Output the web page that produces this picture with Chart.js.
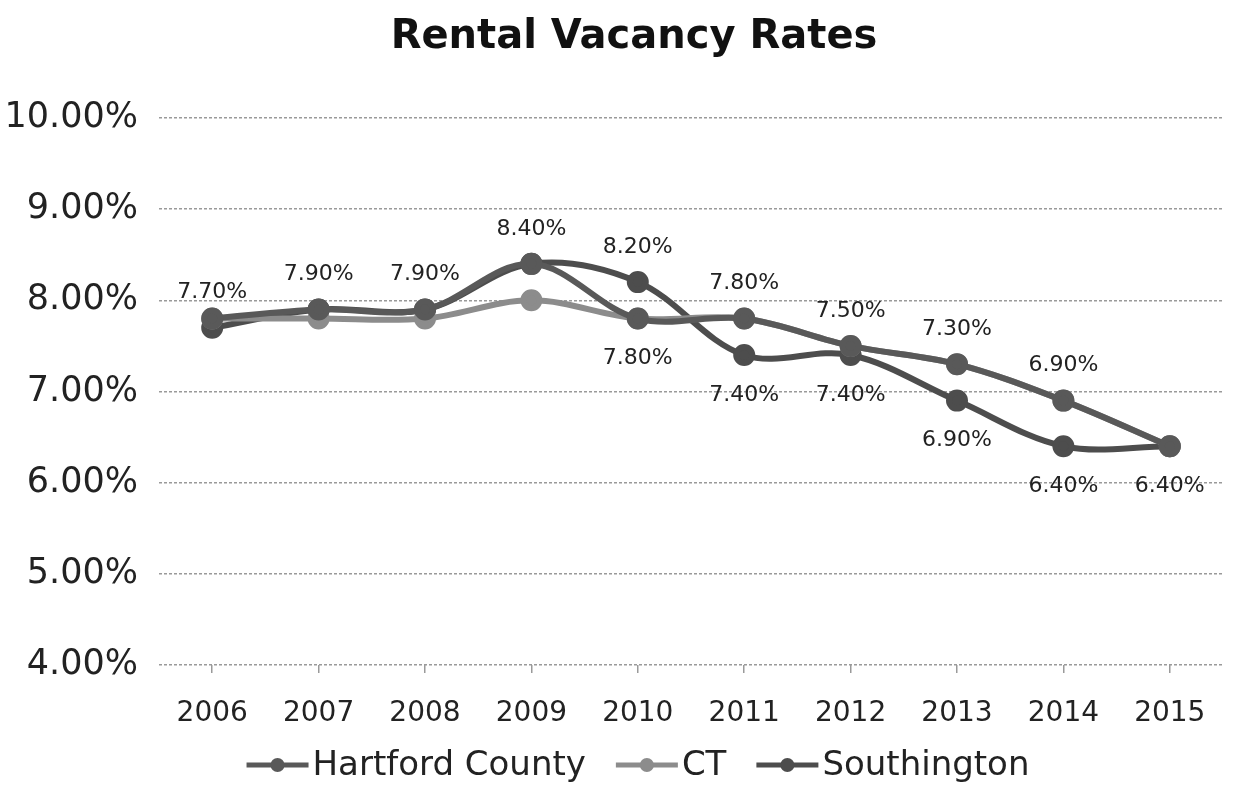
<!DOCTYPE html>
<html>
<head>
<meta charset="utf-8">
<script src="https://cdn.jsdelivr.net/npm/chart.js@4"></script>
<style>
html,body{margin:0;padding:0;background:#fff;}
#wrap{width:1258px;height:791px;}
</style>
</head>
<body>
<div id="wrap"><canvas id="c" width="1258" height="791"></canvas></div>
<script>
const years = ['2006','2007','2008','2009','2010','2011','2012','2013','2014','2015'];
const hartfordCounty = [7.8, 7.9, 7.9, 8.4, 7.8, 7.8, 7.5, 7.3, 6.9, 6.4];
const ct = [7.8, 7.8, 7.8, 8.0, 7.8, 7.8, 7.5, 7.3, 6.9, 6.4];
const southington = [7.7, 7.9, 7.9, 8.4, 8.2, 7.4, 7.4, 6.9, 6.4, 6.4];
const yTicks = [4, 5, 6, 7, 8, 9, 10];
// label placement per point: 'a' above, 'b' below, '' none
const hartfordLabels = ['', '', '', '', 'b', 'a', 'a', 'a', 'a', ''];
const ctLabels = ['', '', '', '', '', '', '', '', '', ''];
const southingtonLabels = ['a', 'a', 'a', 'a', 'a', 'b', 'b', 'b', 'b', 'b'];
const chartTitle = 'Rental Vacancy Rates';

const FONT = '"DejaVu Sans", sans-serif';

const seriesDefs = [
  {label: 'Hartford County', data: hartfordCounty, color: '#595959', labels: hartfordLabels},
  {label: 'CT', data: ct, color: '#8c8c8c', labels: ctLabels},
  {label: 'Southington', data: southington, color: '#4d4d4d', labels: southingtonLabels}
];

const valueLabels = {
  id: 'valueLabels',
  afterDatasetsDraw(chart) {
    const ctx = chart.ctx;
    ctx.save();
    ctx.font = '22px ' + FONT;
    ctx.fillStyle = '#222';
    ctx.textAlign = 'center';
    ctx.textBaseline = 'middle';
    seriesDefs.forEach((s, di) => {
      const meta = chart.getDatasetMeta(di);
      s.labels.forEach((pos, i) => {
        if (!pos) return;
        const pt = meta.data[i];
        const y = pos === 'a' ? pt.y - 35 : pt.y + 40;
        ctx.fillText(s.data[i].toFixed(2) + '%', pt.x, y);
      });
    });
    ctx.restore();
  }
};

const titleAndLegend = {
  id: 'titleAndLegend',
  afterDraw(chart) {
    const ctx = chart.ctx;
    ctx.save();
    // title
    ctx.font = 'bold 40px ' + FONT;
    ctx.fillStyle = '#111';
    ctx.textAlign = 'center';
    ctx.textBaseline = 'middle';
    ctx.fillText(chartTitle, 634, 38);
    // legend
    ctx.font = '34px ' + FONT;
    const iconW = 62, iconGap = 4, itemGap = 30;
    const widths = seriesDefs.map(s => iconW + iconGap + ctx.measureText(s.label).width);
    const total = widths.reduce((a, b) => a + b, 0) + itemGap * (seriesDefs.length - 1);
    let x = 638 - total / 2;
    const y = 765;
    seriesDefs.forEach((s, i) => {
      ctx.strokeStyle = s.color; ctx.lineWidth = 5;
      ctx.beginPath(); ctx.moveTo(x, y); ctx.lineTo(x + iconW, y); ctx.stroke();
      ctx.fillStyle = s.color;
      ctx.beginPath(); ctx.arc(x + iconW / 2, y, 7, 0, Math.PI * 2); ctx.fill();
      ctx.fillStyle = '#222';
      ctx.textAlign = 'left';
      ctx.fillText(s.label, x + iconW + iconGap, y + 1);
      x += widths[i] + itemGap;
    });
    ctx.restore();
  }
};

new Chart(document.getElementById('c'), {
  type: 'line',
  data: {
    labels: years,
    datasets: seriesDefs.map(s => ({
      label: s.label,
      data: s.data,
      borderColor: s.color,
      backgroundColor: s.color,
      borderWidth: 6,
      pointRadius: 8,
      pointHoverRadius: 8,
      pointBackgroundColor: s.color,
      pointBorderColor: s.color,
      pointStyle: 'circle',
      tension: 0.35,
      fill: false
    }))
  },
  options: {
    responsive: false,
    animation: false,
    layout: {padding: {left: 5, right: 35, top: 118, bottom: 56}},
    plugins: {
      title: {display: false},
      legend: {display: false},
      tooltip: {enabled: false}
    },
    scales: {
      x: {
        offset: true,
        grid: {display: true, drawOnChartArea: false, drawTicks: true, tickLength: 8, color: '#9a9a9a', lineWidth: 1.5},
        border: {display: false},
        ticks: {color: '#222', font: {family: FONT, size: 28}, padding: 24},
        afterFit(scale) { scale.height = 70; }
      },
      y: {
        min: 4, max: 10,
        afterBuildTicks(axis) { axis.ticks = yTicks.map(v => ({value: v})); },
        grid: {color: '#9a9a9a', lineWidth: 1.5, drawTicks: false},
        border: {display: false, dash: [3, 2]},
        ticks: {
          color: '#222',
          font: {family: FONT, size: 35},
          padding: 21,
          callback: v => Number(v).toFixed(2) + '%'
        },
        afterFit(scale) { scale.width = 154; }
      }
    }
  },
  plugins: [valueLabels, titleAndLegend]
});
</script>
</body>
</html>
